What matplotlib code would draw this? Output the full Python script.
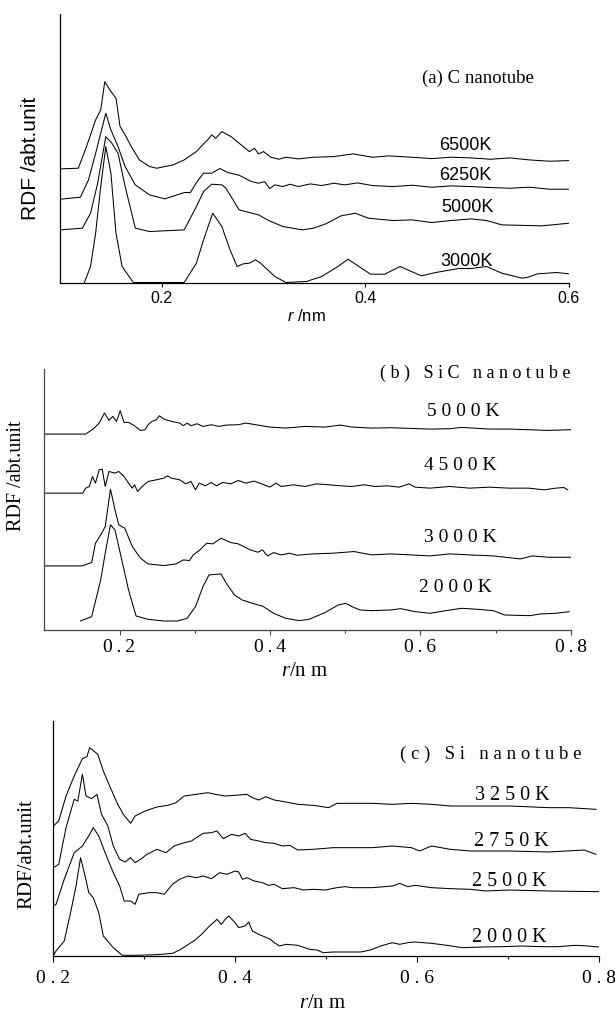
import matplotlib
matplotlib.use("Agg")
import matplotlib.pyplot as plt

# ---------------- data : panel (a) C nanotube ----------------
a_r_3000 = [0.124, 0.130, 0.135, 0.140, 0.145, 0.150, 0.155, 0.161, 0.172, 0.222, 0.234, 0.241, 0.250, 0.259,
            0.267, 0.274, 0.280, 0.286, 0.292, 0.297, 0.311, 0.322, 0.342, 0.357, 0.373, 0.383, 0.405, 0.419,
            0.434, 0.455, 0.469, 0.492, 0.504, 0.519, 0.534, 0.554, 0.560, 0.569, 0.588, 0.600]
a_g_3000 = [0.00, 0.48, 1.48, 2.88, 4.08, 3.28, 1.48, 0.48, 0.00, 0.00, 0.58, 1.28, 2.08, 1.68,
            0.98, 0.48, 0.56, 0.58, 0.68, 0.58, 0.18, 0.00, 0.03, 0.18, 0.48, 0.70, 0.25, 0.25,
            0.48, 0.20, 0.30, 0.42, 0.42, 0.48, 0.28, 0.13, 0.16, 0.26, 0.30, 0.26]

a_r_5000 = [0.100, 0.122, 0.130, 0.137, 0.145, 0.151, 0.157, 0.164, 0.174, 0.188, 0.222, 0.234, 0.241, 0.249,
            0.259, 0.263, 0.276, 0.295, 0.305, 0.319, 0.338, 0.349, 0.361, 0.376, 0.390, 0.403, 0.427, 0.446,
            0.465, 0.484, 0.504, 0.519, 0.534, 0.573, 0.600]
a_g_5000 = [0.00, 0.05, 0.50, 1.40, 2.80, 2.60, 2.30, 1.30, 0.05, -0.05, 0.00, 0.70, 1.15, 1.37,
            1.35, 1.25, 0.60, 0.45, 0.28, 0.10, 0.00, 0.05, 0.18, 0.42, 0.50, 0.35, 0.28, 0.30,
            0.22, 0.28, 0.33, 0.28, 0.15, 0.12, 0.20]

a_r_6250 = [0.100, 0.120, 0.128, 0.135, 0.140, 0.145, 0.150, 0.157, 0.164, 0.174, 0.188, 0.203, 0.215, 0.222,
            0.228, 0.234, 0.241, 0.249, 0.257, 0.265, 0.276, 0.288, 0.295, 0.301, 0.306, 0.311, 0.319, 0.326,
            0.334, 0.346, 0.357, 0.369, 0.380, 0.392, 0.407, 0.427, 0.446, 0.465, 0.484, 0.504, 0.523, 0.542,
            0.561, 0.581, 0.600]
a_g_6250 = [0.00, 0.06, 0.58, 1.38, 1.98, 2.58, 2.08, 1.58, 0.98, 0.43, 0.13, 0.01, 0.13, 0.20,
            0.20, 0.50, 0.78, 0.78, 0.92, 0.80, 0.72, 0.53, 0.48, 0.53, 0.32, 0.43, 0.38, 0.45,
            0.38, 0.46, 0.41, 0.48, 0.43, 0.49, 0.41, 0.38, 0.42, 0.36, 0.40, 0.38, 0.35, 0.33,
            0.36, 0.30, 0.30]

a_r_6500 = [0.100, 0.118, 0.126, 0.135, 0.140, 0.144, 0.149, 0.155, 0.159, 0.164, 0.170, 0.178, 0.188, 0.195,
            0.211, 0.222, 0.234, 0.240, 0.245, 0.249, 0.253, 0.259, 0.268, 0.280, 0.286, 0.291, 0.295, 0.300,
            0.307, 0.315, 0.322, 0.334, 0.349, 0.369, 0.388, 0.407, 0.423, 0.446, 0.465, 0.484, 0.504, 0.523,
            0.542, 0.561, 0.581, 0.600]
a_g_6500 = [0.00, 0.02, 0.67, 1.47, 1.77, 2.62, 2.37, 2.12, 1.27, 1.02, 0.67, 0.27, 0.07, 0.02,
            0.12, 0.27, 0.52, 0.72, 0.87, 1.02, 0.92, 1.12, 0.97, 0.67, 0.52, 0.62, 0.45, 0.52,
            0.35, 0.29, 0.35, 0.30, 0.35, 0.37, 0.45, 0.35, 0.39, 0.35, 0.31, 0.35, 0.33, 0.29,
            0.33, 0.27, 0.23, 0.25]

a_temps = ["3000K", "5000K", "6250K", "6500K"]
a_shift = [0.00, 1.58, 2.50, 3.41]
a_ticks = [0.2, 0.4, 0.6]

# ---------------- data : panel (b) SiC nanotube ----------------
b_r_2000 = [0.148, 0.163, 0.175, 0.181, 0.188, 0.194, 0.202, 0.212, 0.222, 0.238, 0.259, 0.277, 0.290, 0.301,
            0.311, 0.319, 0.335, 0.342, 0.353, 0.363, 0.384, 0.390, 0.405, 0.421, 0.439, 0.452, 0.473, 0.491,
            0.501, 0.509, 0.520, 0.535, 0.561, 0.574, 0.593, 0.613, 0.634, 0.655, 0.676, 0.697, 0.712, 0.728,
            0.746, 0.759, 0.780, 0.798]
b_g_2000 = [0.27, 0.40, 1.50, 2.30, 3.15, 3.00, 2.20, 1.20, 0.42, 0.32, 0.27, 0.27, 0.35, 0.70,
            1.30, 1.65, 1.68, 1.40, 1.05, 0.90, 0.75, 0.72, 0.50, 0.35, 0.28, 0.32, 0.52, 0.75,
            0.80, 0.70, 0.60, 0.58, 0.60, 0.64, 0.55, 0.50, 0.58, 0.65, 0.62, 0.58, 0.45, 0.44,
            0.43, 0.48, 0.50, 0.55]

b_r_3000 = [0.100, 0.150, 0.163, 0.168, 0.175, 0.181, 0.188, 0.194, 0.199, 0.207, 0.217, 0.228, 0.238, 0.259,
            0.275, 0.285, 0.293, 0.298, 0.306, 0.316, 0.324, 0.335, 0.348, 0.358, 0.374, 0.384, 0.390, 0.397,
            0.405, 0.415, 0.426, 0.436, 0.457, 0.483, 0.512, 0.535, 0.561, 0.587, 0.613, 0.639, 0.666, 0.697,
            0.733, 0.749, 0.770, 0.800]
b_g_3000 = [0.00, 0.00, 0.10, 0.68, 0.93, 1.18, 2.30, 1.68, 1.23, 1.13, 0.58, 0.23, 0.06, 0.01,
            0.06, 0.18, 0.16, 0.33, 0.46, 0.68, 0.66, 0.83, 0.70, 0.66, 0.48, 0.41, 0.48, 0.30,
            0.40, 0.33, 0.38, 0.32, 0.36, 0.38, 0.43, 0.33, 0.36, 0.33, 0.30, 0.36, 0.33, 0.30,
            0.21, 0.30, 0.26, 0.26]

b_r_4500 = [0.100, 0.151, 0.155, 0.160, 0.164, 0.168, 0.173, 0.177, 0.181, 0.186, 0.194, 0.199, 0.206, 0.212,
            0.217, 0.220, 0.224, 0.230, 0.238, 0.249, 0.259, 0.264, 0.269, 0.280, 0.288, 0.295, 0.301, 0.306,
            0.314, 0.322, 0.329, 0.337, 0.348, 0.358, 0.368, 0.379, 0.389, 0.400, 0.408, 0.415, 0.431, 0.447,
            0.462, 0.478, 0.494, 0.509, 0.525, 0.540, 0.556, 0.572, 0.585, 0.593, 0.613, 0.639, 0.666, 0.692,
            0.718, 0.744, 0.765, 0.780, 0.791, 0.796]
b_g_4500 = [0.00, 0.00, 0.15, 0.20, 0.50, 0.30, 0.70, 0.72, 0.20, 0.65, 0.60, 0.65, 0.50, 0.30,
            0.15, 0.25, 0.05, 0.20, 0.35, 0.40, 0.45, 0.52, 0.45, 0.40, 0.28, 0.35, 0.10, 0.30,
            0.22, 0.32, 0.22, 0.32, 0.28, 0.38, 0.30, 0.36, 0.28, 0.18, 0.30, 0.20, 0.25, 0.20,
            0.28, 0.25, 0.22, 0.20, 0.25, 0.20, 0.22, 0.18, 0.28, 0.18, 0.15, 0.20, 0.15, 0.18,
            0.15, 0.15, 0.10, 0.15, 0.17, 0.10]

b_r_5000 = [0.100, 0.155, 0.165, 0.173, 0.180, 0.186, 0.191, 0.196, 0.201, 0.206, 0.212, 0.220, 0.228, 0.234,
            0.238, 0.243, 0.249, 0.253, 0.259, 0.269, 0.280, 0.285, 0.290, 0.295, 0.303, 0.311, 0.322, 0.332,
            0.342, 0.358, 0.368, 0.384, 0.400, 0.421, 0.447, 0.473, 0.494, 0.509, 0.535, 0.561, 0.587, 0.613,
            0.639, 0.655, 0.692, 0.718, 0.744, 0.770, 0.800]
b_g_5000 = [0.00, 0.00, 0.15, 0.33, 0.63, 0.41, 0.53, 0.38, 0.70, 0.35, 0.35, 0.25, 0.11, 0.13,
            0.28, 0.38, 0.43, 0.55, 0.45, 0.38, 0.33, 0.25, 0.33, 0.25, 0.31, 0.23, 0.28, 0.23,
            0.27, 0.28, 0.33, 0.27, 0.21, 0.18, 0.23, 0.21, 0.27, 0.21, 0.18, 0.19, 0.17, 0.15,
            0.16, 0.20, 0.15, 0.15, 0.13, 0.11, 0.13]

b_temps = ["2000K", "3000K", "4500K", "5000K"]
b_shift = [0.00, 1.92, 4.10, 5.87]
b_ticks = [0.2, 0.4, 0.6, 0.8]
b_minor = [0.3, 0.5, 0.7]

# ---------------- data : panel (c) Si nanotube ----------------
c_r_2000 = [0.200, 0.203, 0.212, 0.219, 0.225, 0.230, 0.235, 0.239, 0.244, 0.250, 0.255, 0.266, 0.276, 0.292,
            0.314, 0.331, 0.339, 0.346, 0.357, 0.365, 0.370, 0.376, 0.380, 0.385, 0.389, 0.393, 0.400, 0.404,
            0.411, 0.415, 0.419, 0.426, 0.439, 0.443, 0.449, 0.456, 0.469, 0.482, 0.490, 0.497, 0.508, 0.521,
            0.538, 0.549, 0.560, 0.573, 0.581, 0.590, 0.598, 0.616, 0.633, 0.650, 0.672, 0.693, 0.715, 0.737,
            0.754, 0.775, 0.788, 0.800]
c_g_2000 = [0.00, 0.15, 0.45, 1.30, 2.10, 2.95, 2.40, 1.90, 1.75, 1.30, 0.60, 0.25, 0.02, 0.02,
            0.04, 0.08, 0.18, 0.30, 0.50, 0.70, 0.85, 1.00, 1.10, 0.95, 1.10, 1.20, 1.00, 0.85,
            0.90, 1.02, 0.75, 0.65, 0.50, 0.40, 0.30, 0.35, 0.32, 0.20, 0.18, 0.10, 0.12, 0.12,
            0.12, 0.18, 0.30, 0.40, 0.35, 0.40, 0.42, 0.38, 0.32, 0.25, 0.27, 0.28, 0.30, 0.28,
            0.28, 0.32, 0.30, 0.27]

c_r_2500 = [0.200, 0.203, 0.212, 0.223, 0.232, 0.240, 0.244, 0.250, 0.257, 0.266, 0.273, 0.278, 0.285, 0.290,
            0.294, 0.305, 0.314, 0.322, 0.331, 0.339, 0.348, 0.357, 0.365, 0.374, 0.383, 0.391, 0.400, 0.404,
            0.408, 0.413, 0.421, 0.430, 0.437, 0.443, 0.452, 0.465, 0.475, 0.486, 0.499, 0.512, 0.521, 0.529,
            0.551, 0.573, 0.581, 0.590, 0.598, 0.616, 0.637, 0.659, 0.676, 0.702, 0.745, 0.800]
c_g_2500 = [0.00, 0.05, 0.80, 1.60, 1.80, 2.15, 2.35, 2.10, 1.60, 1.00, 0.60, 0.15, 0.15, 0.05,
            0.35, 0.40, 0.40, 0.35, 0.65, 0.80, 0.90, 0.85, 0.90, 0.82, 1.00, 0.95, 1.05, 1.02,
            0.80, 0.85, 0.75, 0.70, 0.62, 0.65, 0.52, 0.55, 0.48, 0.50, 0.48, 0.55, 0.58, 0.55,
            0.55, 0.60, 0.68, 0.58, 0.62, 0.55, 0.52, 0.50, 0.45, 0.48, 0.45, 0.43]

c_r_2750 = [0.200, 0.206, 0.214, 0.223, 0.227, 0.232, 0.236, 0.242, 0.248, 0.253, 0.260, 0.266, 0.273, 0.279,
            0.285, 0.290, 0.296, 0.303, 0.314, 0.324, 0.333, 0.344, 0.352, 0.359, 0.365, 0.374, 0.380, 0.387,
            0.396, 0.404, 0.411, 0.417, 0.426, 0.434, 0.443, 0.452, 0.460, 0.469, 0.486, 0.508, 0.529, 0.551,
            0.573, 0.594, 0.603, 0.616, 0.637, 0.659, 0.702, 0.745, 0.784, 0.797]
c_g_2750 = [0.00, 0.10, 1.20, 2.05, 2.00, 2.80, 2.15, 2.07, 2.20, 1.60, 1.25, 0.65, 0.25, 0.17,
            0.30, 0.15, 0.25, 0.40, 0.55, 0.45, 0.65, 0.75, 0.80, 0.93, 1.03, 1.05, 1.10, 0.87,
            1.00, 0.95, 1.03, 0.85, 0.80, 0.75, 0.73, 0.65, 0.67, 0.53, 0.55, 0.60, 0.60, 0.60,
            0.65, 0.60, 0.50, 0.65, 0.55, 0.50, 0.50, 0.47, 0.53, 0.40]

c_r_3250 = [0.200, 0.206, 0.214, 0.223, 0.232, 0.237, 0.240, 0.249, 0.255, 0.262, 0.270, 0.277, 0.285, 0.290,
            0.301, 0.314, 0.326, 0.335, 0.344, 0.357, 0.370, 0.378, 0.389, 0.400, 0.413, 0.419, 0.426, 0.434,
            0.443, 0.456, 0.469, 0.486, 0.503, 0.512, 0.529, 0.551, 0.573, 0.594, 0.616, 0.637, 0.659, 0.702,
            0.745, 0.767, 0.797]
c_g_3250 = [0.00, 0.15, 0.90, 1.50, 2.02, 2.08, 2.35, 2.15, 1.65, 1.20, 0.70, 0.35, 0.08, 0.30,
            0.45, 0.57, 0.62, 0.70, 0.90, 0.95, 1.00, 0.95, 0.90, 0.92, 0.95, 0.85, 0.78, 0.88,
            0.78, 0.72, 0.65, 0.62, 0.55, 0.68, 0.68, 0.68, 0.65, 0.68, 0.65, 0.60, 0.60, 0.60,
            0.55, 0.55, 0.50]

c_temps = ["2000K", "2500K", "2750K", "3250K"]
c_shift = [0.00, 1.50, 2.65, 3.90]
c_ticks = [0.2, 0.4, 0.6, 0.8]
c_minor = [0.3, 0.5, 0.7]

# ---------------- figure ----------------
W, H = 615, 1011
SANS = ["Liberation Sans", "DejaVu Sans"]
SERIF = ["Liberation Serif", "DejaVu Serif"]
plt.rcParams["mathtext.fontset"] = "custom"
plt.rcParams["mathtext.it"] = "Liberation Serif:italic"
plt.rcParams["mathtext.sf"] = "Liberation Sans:italic"

fig = plt.figure(figsize=(W / 100, H / 100), dpi=100)


def box(l, t, r, b):
    return [l / W, 1 - b / H, (r - l) / W, (b - t) / H]


def ftext(x, y, s, **kw):
    fig.text(x / W, 1 - y / H, s, **kw)


def spaced(s, sep=" "):
    return sep.join(s)


def style(ax, xlim, ylim, spine_color="black"):
    ax.set_xlim(*xlim)
    ax.set_ylim(*ylim)
    ax.set_yticks([])
    for s in ("top", "right"):
        ax.spines[s].set_visible(False)
    for s in ("left", "bottom"):
        ax.spines[s].set_color(spine_color)
        ax.spines[s].set_linewidth(0.9)
    ax.patch.set_alpha(0)


LW = 0.75

# panel (a)
axa = fig.add_axes(box(60, 14, 569, 282.5))
style(axa, (0.1, 0.6), (0, 8.06))
for (r, g), sh in zip([(a_r_3000, a_g_3000), (a_r_5000, a_g_5000), (a_r_6250, a_g_6250),
                       (a_r_6500, a_g_6500)], a_shift):
    axa.plot(r, [v + sh for v in g], color="black", lw=LW)
axa.set_xticks(a_ticks)
axa.set_xticklabels([f"{t:.1f}" for t in a_ticks], fontsize=11.5, family=SANS)
axa.tick_params(axis="x", direction="out", length=3, width=0.8, pad=3)
ftext(30, 158, "RDF /abt.unit", rotation=90, ha="center", va="center", fontsize=15, family=SANS)
ftext(306, 316, r"$\mathsf{r}$ /nm", ha="center", va="center", fontsize=12, family=SANS)
ftext(422, 78, "(a) C nanotube", ha="left", va="center", fontsize=13.5, family=SERIF)
for name, y, x in zip(a_temps, [262, 207, 175, 145], [440, 441, 439, 439]):
    ftext(x, y, name, ha="left", va="center", fontsize=13, family=SANS)

# panel (b)
axb = fig.add_axes(box(44.3, 369, 570.7, 630))
style(axb, (0.1, 0.8), (0, 7.82), spine_color="#444444")
for (r, g), sh in zip([(b_r_2000, b_g_2000), (b_r_3000, b_g_3000), (b_r_4500, b_g_4500),
                       (b_r_5000, b_g_5000)], b_shift):
    axb.plot(r, [v + sh for v in g], color="black", lw=LW)
axb.set_xticks(b_ticks)
axb.set_xticklabels([spaced(f"{t:.1f}", "\u2009") for t in b_ticks], fontsize=14, family=SERIF)
axb.set_xticks(b_minor, minor=True)
axb.tick_params(axis="x", which="major", direction="out", length=3.5, width=0.8, pad=3, color="#444444")
axb.tick_params(axis="x", which="minor", direction="out", length=2.5, width=0.8, color="#444444")
ftext(17, 476, "RDF /abt.unit", rotation=90, ha="center", va="center", fontsize=14.5, family=SERIF)
ftext(305, 671, r"$\mathit{r}$/n m", ha="center", va="center", fontsize=15, family=SERIF)
ftext(570, 373, spaced("(b) SiC nanotube"), ha="right", va="center", fontsize=13, family=SERIF)
for name, y, x in zip(b_temps, [588, 538, 466, 412], [419, 423.5, 424, 427]):
    ftext(x, y, spaced(name), ha="left", va="center", fontsize=14, family=SERIF)

# panel (c)
axc = fig.add_axes(box(53.3, 721, 598.7, 956))
style(axc, (0.2, 0.8), (0, 7.05))
for (r, g), sh in zip([(c_r_2000, c_g_2000), (c_r_2500, c_g_2500), (c_r_2750, c_g_2750),
                       (c_r_3250, c_g_3250)], c_shift):
    axc.plot(r, [v + sh for v in g], color="black", lw=LW)
axc.set_xticks(c_ticks)
axc.set_xticklabels([spaced(f"{t:.1f}") for t in c_ticks], fontsize=14, family=SERIF)
axc.set_xticks(c_minor, minor=True)
axc.tick_params(axis="x", which="major", direction="out", length=4, width=0.8, pad=6)
axc.tick_params(axis="x", which="minor", direction="out", length=2.5, width=0.8)
ftext(27, 854, "RDF/abt.unit", rotation=90, ha="center", va="center", fontsize=15, family=SERIF)
ftext(323, 1003, r"$\mathit{r}$/n m", ha="center", va="center", fontsize=15, family=SERIF)
ftext(400, 754, spaced("(c) Si nanotube"), ha="left", va="center", fontsize=13.5, family=SERIF)
for name, y, x in zip(c_temps, [938, 882, 841, 795], [472.5, 472, 474, 475]):
    ftext(x, y, spaced(name), ha="left", va="center", fontsize=14.5, family=SERIF)

fig.savefig("out.png", dpi=100)
